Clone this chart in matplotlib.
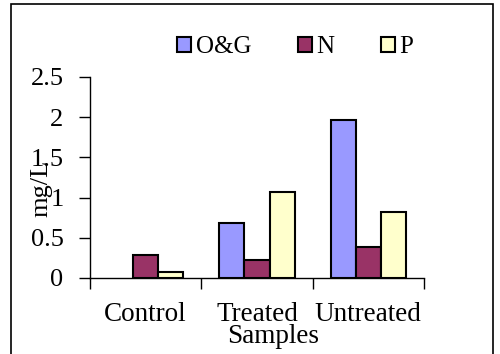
import numpy as np
import matplotlib
matplotlib.use("Agg")
import matplotlib.pyplot as plt
from matplotlib.patches import Rectangle, Patch

# valeurs
categories = ["Control", "Treated", "Untreated"]
series_names = ["O&G", "N", "P"]
og_vals = [0.0, 0.68, 1.97]
n_vals = [0.28, 0.22, 0.38]
p_vals = [0.08, 1.07, 0.82]
yticks = [0, 0.5, 1, 1.5, 2, 2.5]
ytick_labels = ["0", "0.5", "1", "1.5", "2", "2.5"]

colors = ["#9999FF", "#993366", "#FFFFCC"]

plt.rcParams['font.family'] = ['Liberation Serif', 'DejaVu Serif']

fig = plt.figure(figsize=(5, 3.54), dpi=100)
ax = fig.add_axes([0.18, 0.2147, 0.668, 0.568])

x = np.arange(len(categories))
w = 0.225
for i, vals in enumerate([og_vals, n_vals, p_vals]):
    bars = ax.bar(x + (i - 1) * w, vals, width=w, color=colors[i], edgecolor='black',
                  linewidth=1.5, zorder=3)
    # barre nulle : rien a dessiner
    for b, v in zip(bars, vals):
        if v == 0:
            b.set_visible(False)

ax.set_xlim(-0.5, 2.5)
ax.set_ylim(0, 2.5)
ax.set_yticks(yticks)
ax.set_yticklabels(ytick_labels)
ax.set_xticks(x)
ax.set_xticklabels(categories)
ax.set_xticks([-0.5, 0.5, 1.5, 2.5], minor=True)
ax.tick_params(axis='x', which='major', length=0, labelsize=19.5, pad=17)
ax.tick_params(axis='x', which='minor', length=8, width=1, direction='out')
ax.tick_params(axis='y', length=8, width=1, direction='out', labelsize=19, pad=11)

for s in ['top', 'right']:
    ax.spines[s].set_visible(False)
ax.spines['left'].set_linewidth(1)
ax.spines['bottom'].set_linewidth(1)

ax.set_ylabel("mg/L", fontsize=19)
ax.yaxis.set_label_coords(-0.112, 0.448)
fig.text(0.546, 0.05, "Samples", fontsize=19.5, ha='center', va='center')

handles = [Patch(facecolor=c, edgecolor='black', linewidth=1.5, label=n)
           for c, n in zip(colors, series_names)]
leg = fig.legend(handles=handles, loc='center', bbox_to_anchor=(0.591, 0.867), ncol=3,
                 frameon=False, fontsize=18, handlelength=0.55, handleheight=0.55,
                 handletextpad=0.2, columnspacing=1.85)

# cadre autour de la figure
fig.patches.append(Rectangle((0.022, -0.05), 0.964, 1.04, transform=fig.transFigure,
                             fill=False, edgecolor='black', linewidth=1.2))

fig.savefig("out.png", dpi=100)
